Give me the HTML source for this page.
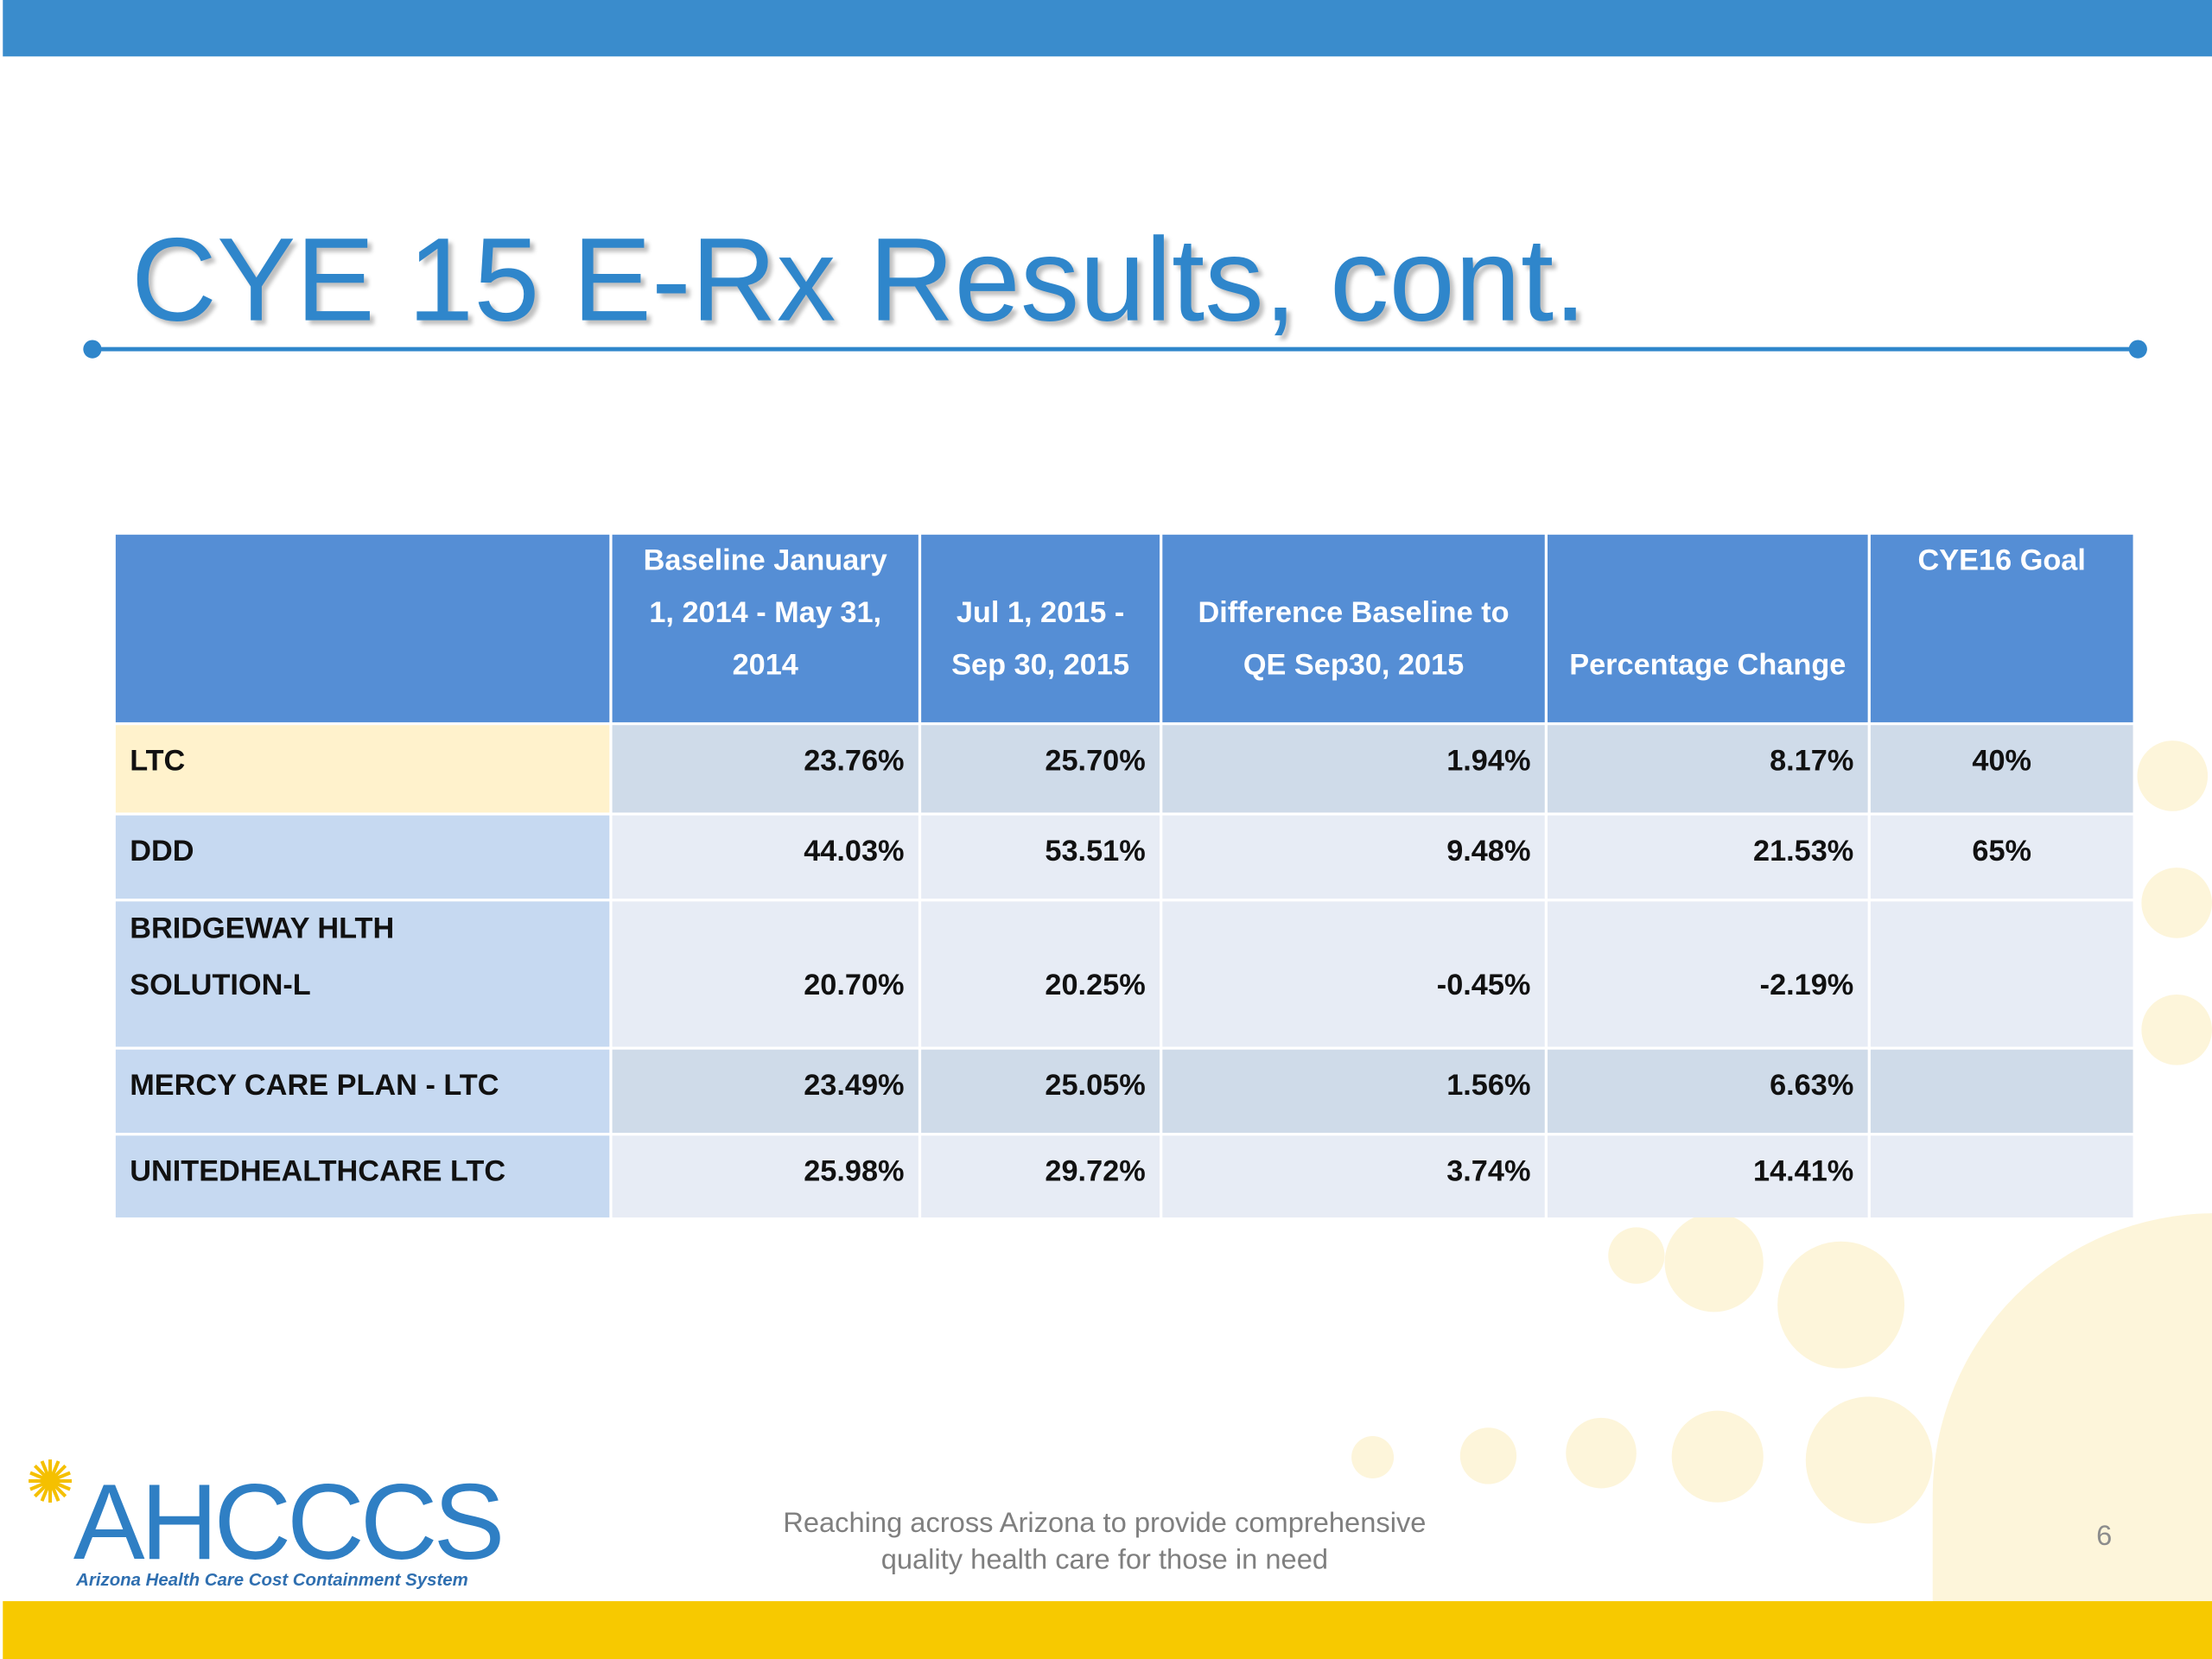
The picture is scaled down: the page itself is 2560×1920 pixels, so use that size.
<!DOCTYPE html>
<html><head><meta charset="utf-8"><style>
html,body{margin:0;padding:0;width:2560px;height:1920px;overflow:hidden;background:#fff}
#s{position:absolute;left:0;top:0;width:1568px;height:1176px;transform:scale(1.632653);transform-origin:0 0;font-family:"Liberation Sans",sans-serif;overflow:hidden}
.a{position:absolute}
.dot{position:absolute;border-radius:50%;background:#fdf5da}
table{position:absolute;left:80px;top:377px;border-collapse:separate;border-spacing:2px;font-weight:bold;font-size:21px;color:#111}
td{padding:0 10px;box-sizing:border-box}
th{background:#558ed5;color:#fff;font-size:21px;line-height:37px;vertical-align:bottom;padding:0 6px 22px;height:132px;box-sizing:border-box;font-weight:bold}
tr.r td{line-height:40px;vertical-align:top;padding-top:6px}
td.n{text-align:right}
.d td{background:#cfdbe9}.l td{background:#e7ecf5}
td.f{background:#c6d9f1!important}
</style></head><body>
<div id="s">
<div class="dot" style="left:1370px;top:860px;width:400px;height:316px;border-radius:200px 200px 0 0"></div>
<div class="dot" style="left:1515px;top:525px;width:50px;height:50px"></div>
<div class="dot" style="left:1518px;top:615px;width:50px;height:50px"></div>
<div class="dot" style="left:1518px;top:705px;width:50px;height:50px"></div>
<div class="dot" style="left:1260px;top:880px;width:90px;height:90px"></div>
<div class="dot" style="left:1180px;top:860px;width:70px;height:70px"></div>
<div class="dot" style="left:1280px;top:990px;width:90px;height:90px"></div>
<div class="dot" style="left:1185px;top:1000px;width:65px;height:65px"></div>
<div class="dot" style="left:1110px;top:1005px;width:50px;height:50px"></div>
<div class="dot" style="left:1035px;top:1012px;width:40px;height:40px"></div>
<div class="dot" style="left:958px;top:1018px;width:30px;height:30px"></div>
<div class="dot" style="left:1140px;top:870px;width:40px;height:40px"></div>
<div class="a" style="left:2px;top:0;width:1566px;height:40px;background:#3a8ccc"></div>
<div class="a" style="left:93px;top:150px;font-size:84px;color:#2f86cb;letter-spacing:0;white-space:nowrap;text-shadow:3px 3px 3px rgba(0,0,0,.25)">CYE 15 E-Rx Results, cont.</div>
<div class="a" style="left:65px;top:246px;width:1451px;height:3px;background:#2f86cb"></div>
<div class="a" style="left:59px;top:241px;width:13px;height:13px;border-radius:50%;background:#2f86cb"></div>
<div class="a" style="left:1509px;top:241px;width:13px;height:13px;border-radius:50%;background:#2f86cb"></div>
<table>
<tr>
<th style="width:350px"></th>
<th style="width:217px;padding-left:16px;padding-right:16px">Baseline January 1, 2014 - May 31, 2014</th>
<th style="width:169px">Jul 1, 2015 - Sep 30, 2015</th>
<th style="width:271px;padding-left:14px;padding-right:14px">Difference Baseline to QE Sep30, 2015</th>
<th style="width:227px">Percentage Change</th>
<th style="width:186px;vertical-align:top;padding:0">CYE16 Goal</th>
</tr>
<tr class="r d" style="height:62px"><td style="background:#fff2cc">LTC</td><td class="n">23.76%</td><td class="n">25.70%</td><td class="n">1.94%</td><td class="n">8.17%</td><td style="text-align:center">40%</td></tr>
<tr class="r l" style="height:59px"><td class="f">DDD</td><td class="n">44.03%</td><td class="n">53.51%</td><td class="n">9.48%</td><td class="n">21.53%</td><td style="text-align:center">65%</td></tr>
<tr class="r l" style="height:103px"><td class="f" style="padding-top:0">BRIDGEWAY HLTH<br>SOLUTION-L</td><td class="n" style="vertical-align:bottom;padding-bottom:23px">20.70%</td><td class="n" style="vertical-align:bottom;padding-bottom:23px">20.25%</td><td class="n" style="vertical-align:bottom;padding-bottom:23px">-0.45%</td><td class="n" style="vertical-align:bottom;padding-bottom:23px">-2.19%</td><td></td></tr>
<tr class="r d" style="height:59px"><td class="f">MERCY CARE PLAN - LTC</td><td class="n">23.49%</td><td class="n">25.05%</td><td class="n">1.56%</td><td class="n">6.63%</td><td></td></tr>
<tr class="r l" style="height:58px"><td class="f">UNITEDHEALTHCARE LTC</td><td class="n">25.98%</td><td class="n">29.72%</td><td class="n">3.74%</td><td class="n">14.41%</td><td></td></tr>
</table>
<div class="a" style="left:18px;top:1030px;font-size:42px;color:#f5c000;line-height:42px">✺</div>
<div class="a" style="left:52px;top:1040px;font-size:76px;color:#2f7fc4;line-height:80px;letter-spacing:-3px">AHCCCS</div>
<div class="a" style="left:54px;top:1113px;font-size:12.5px;font-weight:bold;font-style:italic;color:#2f6fb0;white-space:nowrap">Arizona Health Care Cost Containment System</div>
<div class="a" style="left:483px;top:1067px;width:600px;text-align:center;font-size:20px;line-height:26px;color:#7f7f7f">Reaching across Arizona to provide comprehensive<br>quality health care for those in need</div>
<div class="a" style="left:1486px;top:1078px;font-size:20px;color:#8c8c8c">6</div>
<div class="a" style="left:2px;top:1135px;width:1566px;height:41px;background:#f7c900"></div>
</div>
</body></html>
